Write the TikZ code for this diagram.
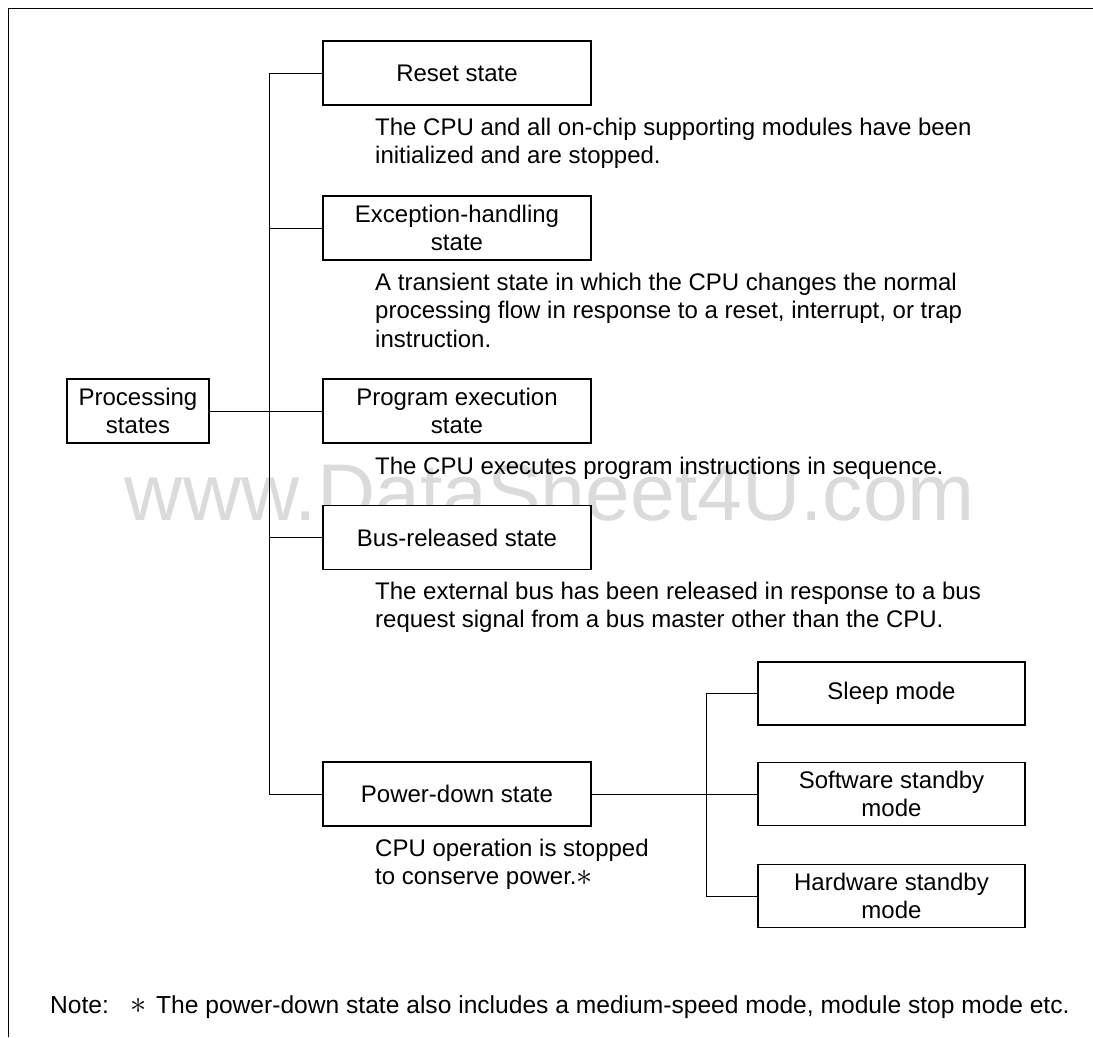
\documentclass[tikz,border=0pt]{standalone}
\usepackage{fontspec}
\setmainfont{Liberation Sans}
\newcommand{\myast}{\raisebox{-0.5pt}{\scalebox{1.3}{$\ast$}}}
\begin{document}
\begin{tikzpicture}[x=1pt,y=-1pt,
  txt/.style={font=\fontsize{24}{28.5}\selectfont},
  statebox/.style={draw, line width=1.3pt, fill=white, txt, align=center,
    minimum width=268pt, minimum height=64pt, inner sep=0pt},
  procbox/.style={statebox, minimum width=142pt},
  modebox/.style={statebox, minimum width=267pt, minimum height=63pt},
  desc/.style={txt, anchor=base west, inner sep=0pt},
  conn/.style={line width=1pt},
  frameline/.style={line width=1pt}]
\useasboundingbox (0,0) rectangle (1093,1037);
% frame
\coordinate (fbl) at (8,1037);
\coordinate (ftl) at (8,8);
\coordinate (ftr) at (1093,8);
\draw[frameline] (fbl) -- (ftl) -- (ftr);
% watermark
\node[anchor=base, inner sep=0pt, text=black!14, font=\fontsize{80.5}{90}\selectfont] (wm) at (550,520) {www.DataSheet4U.com};
% spines
\coordinate (sp) at (269,0);
\coordinate (rs) at (706,0);
% boxes
\node[procbox] (proc) at (138,411) {Processing\\states};
\node[statebox] (reset) at (457,73) {Reset state};
\node[statebox] (exc) at (457,228) {Exception-handling\\state};
\node[statebox] (prog) at (457,411) {Program execution\\state};
\node[statebox] (bus) at (457,537.5) {Bus-released state};
\node[statebox] (power) at (457,794) {Power-down state};
\node[modebox] (sleep) at (891.5,693.5) {Sleep mode};
\node[modebox] (soft) at (891.5,794) {Software standby\\mode};
\node[modebox] (hard) at (891.5,896) {Hardware standby\\mode};
% connectors
\draw[conn] (reset.west) -- (reset.west -| sp) -- (power.west -| sp) -- (power.west);
\draw[conn] (exc.west) -- (exc.west -| sp);
\draw[conn] (proc.east) -- (prog.west);
\draw[conn] (bus.west) -- (bus.west -| sp);
\draw[conn] (power.east) -- (soft.west);
\draw[conn] (sleep.west) -- (sleep.west -| rs) -- (hard.west -| rs) -- (hard.west);
% descriptions
\node[desc] (rd1) at (375,135) {The CPU and all on-chip supporting modules have been};
\node[desc] (rd2) at (375,163.5) {initialized and are stopped.};
\node[desc] (ed1) at (375,290) {A transient state in which the CPU changes the normal};
\node[desc] (ed2) at (375,318.5) {processing flow in response to a reset, interrupt, or trap};
\node[desc] (ed3) at (375,347) {instruction.};
\node[desc] (pd1) at (375,474) {The CPU executes program instructions in sequence.};
\node[desc] (bd1) at (375,599) {The external bus has been released in response to a bus};
\node[desc] (bd2) at (375,627.5) {request signal from a bus master other than the CPU.};
\node[desc] (wd1) at (375,856) {CPU operation is stopped};
\node[desc] (wd2) at (375,884.5) {to conserve power.\myast};
% note
\node[desc, font=\fontsize{24.6}{28.5}\selectfont] (note) at (50,1013) {Note:\hspace{22pt}\myast\hspace{9pt}The power-down state also includes a medium-speed mode, module stop mode etc.};
\end{tikzpicture}
\end{document}
